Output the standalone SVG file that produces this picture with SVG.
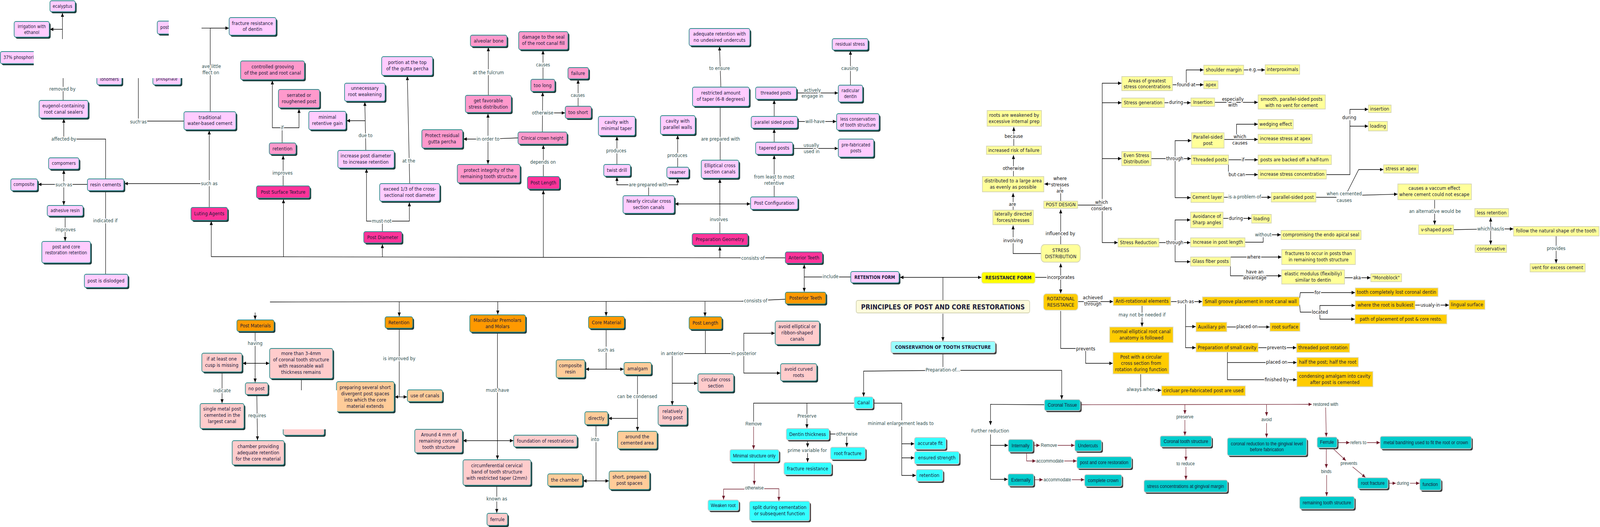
<svg xmlns="http://www.w3.org/2000/svg" width="4741" height="1349" viewBox="0 0 4741 1349" preserveAspectRatio="none" style="width:100vw;height:100vh;display:block">
<defs>
<style>
text{font-family:"DejaVu Sans",Verdana,sans-serif;font-size:13px;fill:#1a1a3a;text-anchor:middle;dominant-baseline:central}
.s12{font-size:12px}
.ar{font-family:"Liberation Sans",Arial,sans-serif}
.bd{font-weight:bold}
.lb{fill:#2f4f4f;stroke:#fff;stroke-width:5px;stroke-linejoin:round;paint-order:stroke}
.lk{fill:#111}
.st{text-anchor:start}
.sh{fill:#1d3b3b}
.shc{fill:#3a3a3a}
.pl{fill:#ffccff;stroke:#2e8c8c;stroke-width:2}
.pm{fill:#ff99cc;stroke:#2e8c8c;stroke-width:2}
.mg{fill:#ff3399;stroke:#2e8c8c;stroke-width:2}
.or{fill:#ff9900;stroke:#2e8c8c;stroke-width:2}
.sa{fill:#ffcccc;stroke:#2e8c8c;stroke-width:2}
.pe{fill:#ffcc99;stroke:#2e8c8c;stroke-width:2}
.cy{fill:#33ffff;stroke:#c8c8c8;stroke-width:2}
.lc{fill:#99ffff;stroke:#c8c8c8;stroke-width:2}
.dc{fill:#00cccc;stroke:#c8c8c8;stroke-width:2}
.yl{fill:#ffff99;stroke:#d6d6b4;stroke-width:2}
.gd{fill:#ffcc00;stroke:#dcdcc4;stroke-width:2}
.ye{fill:#ffff00;stroke:#e4e4a8;stroke-width:2}
.tt{fill:#fdfbdc;stroke:#d2d2b4;stroke-width:2}
.wh{fill:#fff}
#connectors path{fill:none;stroke:#000;stroke-width:1.3}
#connectors path.r{stroke:#701c2c}
.m{marker-end:url(#a)}
.rm{marker-end:url(#r)}
</style>
<marker id="a" viewBox="0 0 10 10" refX="10" refY="5" markerWidth="10" markerHeight="10" markerUnits="userSpaceOnUse" orient="auto"><path d="M0,0.5L10,5L0,9.5z" fill="#000"/></marker>
<marker id="r" viewBox="0 0 10 10" refX="10" refY="5" markerWidth="10" markerHeight="10" markerUnits="userSpaceOnUse" orient="auto"><path d="M0,0.5L10,5L0,9.5z" fill="#701c2c"/></marker>
</defs>
<rect width="4741" height="1349" fill="#fff"/>

<g id="connectors">
<path class="m" d="M185,100V33"/>
<path class="m" d="M185,75H148"/>
<path d="M187,257V200"/>
<path class="m" d="M313,458V356H189V304"/>
<path class="m" d="M259,472H113"/>
<path class="m" d="M189,473V435"/>
<path class="m" d="M189,473V525"/>
<path class="m" d="M193,555V617"/>
<path d="M313,490V702"/>
<path class="m" d="M620,531V334"/>
<path class="m" d="M620,470H369"/>
<path d="M545,310H410V200"/>
<path class="m" d="M623,286V72H678"/>
<path d="M597,72H623"/>
<path d="M2327,660L626,657"/>
<path class="m" d="M626,657V566"/>
<path class="m" d="M840,658V510"/>
<path class="m" d="M1133,658V625"/>
<path class="m" d="M1610,659V487"/>
<path class="m" d="M2133,659V631"/>
<path class="m" d="M839,476V398"/>
<path class="m" d="M836,366V327H807V206"/>
<path class="m" d="M836,327H886V279"/>
<path class="m" d="M1133,593V566H1086V432"/>
<path class="m" d="M1133,566H1213V518"/>
<path class="m" d="M1214,470L1207,195"/>
<path class="m" d="M1084,385L1081,261"/>
<path class="m" d="M1082,309H1027"/>
<path class="m" d="M1535,353L1446,356H1373"/>
<path class="m" d="M1446,356V291"/>
<path class="m" d="M1446,356V420"/>
<path class="m" d="M1447,244V121"/>
<path class="m" d="M1610,452V371"/>
<path class="m" d="M1607,338L1608,236"/>
<path class="m" d="M1608,289H1674"/>
<path class="m" d="M1609,203V129"/>
<path class="m" d="M1713,272V204"/>
<path class="m" d="M2133,598V458"/>
<path class="m" d="M2133,522H2000"/>
<path class="m" d="M2133,522H2223"/>
<path d="M2134,410V273"/>
<path class="m" d="M2136,223L2132,119"/>
<path class="m" d="M1922,501V473H1828V453"/>
<path class="m" d="M1922,473H2008V457"/>
<path class="m" d="M1828,421V349"/>
<path class="m" d="M2008,428V346"/>
<path class="m" d="M2294,504V397"/>
<path class="m" d="M2294,364V330"/>
<path class="m" d="M2294,298V256"/>
<path class="m" d="M2360,238H2483"/>
<path class="m" d="M2520,218V130"/>
<path class="m" d="M2363,311H2478"/>
<path class="m" d="M2349,380H2483"/>
<path d="M2327,766L2198,771L800,773"/>
<path class="m" d="M756,800V818"/>
<path class="m" d="M1183,772V810"/>
<path class="m" d="M1475,772V805"/>
<path class="m" d="M1796,772V809"/>
<path class="m" d="M2089,772V810"/>
<path class="m" d="M756,849V979"/>
<path class="m" d="M756,930H719"/>
<path class="m" d="M756,930H798"/>
<path class="m" d="M658,954V1032"/>
<path class="m" d="M761,1012L763,1127"/>
<path d="M893,969V1000"/>
<path class="m" d="M1183,842V1016H1170"/>
<path class="m" d="M1183,1016H1206"/>
<path class="m" d="M1474,852V1176"/>
<path class="m" d="M1474,1128H1372"/>
<path class="m" d="M1474,1128H1521"/>
<path class="m" d="M1472,1243V1313"/>
<path class="m" d="M1796,842V945H1735"/>
<path class="m" d="M1796,945H1848"/>
<path class="m" d="M1889,961V1103"/>
<path class="m" d="M1889,1071H1803"/>
<path class="m" d="M1766,1089V1231H1728"/>
<path class="m" d="M1766,1231H1804"/>
<path class="m" d="M2090,845V905H1992V1037"/>
<path class="m" d="M1992,981H2067"/>
<path class="m" d="M2090,905H2204V853H2296"/>
<path class="m" d="M2204,905V955H2312"/>
<path class="m" d="M2794,769V710H2667"/>
<path class="m" d="M2794,710H2908"/>
<path class="m" d="M2521,709H2383V677"/>
<path class="m" d="M2383,709V747"/>
<path class="m" d="M2794,803V873"/>
<path class="m" d="M2794,904V948L2559,950V1015"/>
<path class="m" d="M2794,948H3146V1022"/>
<path d="M2531,1032H2233V1080"/>
<path class="r rm" d="M2233,1092V1150"/>
<path class="m" d="M2391,1032V1096"/>
<path class="m" d="M2458,1111H2509V1144"/>
<path class="m" d="M2393,1128V1145"/>
<path class="m" d="M2393,1160V1183"/>
<path d="M2588,1032H2672V1076"/>
<path class="m" d="M2672,1092V1217H2714"/>
<path class="m" d="M2672,1136H2709"/>
<path class="m" d="M2672,1172H2709"/>
<path class="r rm" d="M2235,1185V1241"/>
<path class="r rm" d="M2210,1252H2144V1279"/>
<path class="r rm" d="M2262,1251H2308V1282"/>
<path class="m" d="M3095,1036L2935,1035V1088"/>
<path class="m" d="M2935,1112V1227H2986"/>
<path class="m" d="M2935,1140H2987"/>
<path class="r rm" d="M3062,1140H3081"/>
<path class="r rm" d="M3134,1140H3184"/>
<path class="r rm" d="M3042,1158V1180H3069"/>
<path class="r rm" d="M3152,1180H3190"/>
<path class="r rm" d="M3064,1228H3090"/>
<path class="r rm" d="M3176,1228H3213"/>
<path class="r rm" d="M3201,1036L3887,1035"/>
<path class="r rm" d="M3511,1036V1060"/>
<path class="r rm" d="M3511,1075V1115"/>
<path class="r rm" d="M3753,1036V1065"/>
<path class="r rm" d="M3753,1083V1120"/>
<path class="r rm" d="M3928,1043L3930,1118"/>
<path class="r rm" d="M3514,1146V1179"/>
<path class="r rm" d="M3514,1195V1228"/>
<path class="r rm" d="M3962,1133H3999"/>
<path class="r rm" d="M4050,1133H4089"/>
<path class="r rm" d="M3930,1149V1198"/>
<path class="r rm" d="M3931,1216V1270"/>
<path class="r rm" d="M3951,1149L3988,1179"/>
<path class="r rm" d="M4008,1195L4046,1222"/>
<path class="r rm" d="M4114,1237H4136"/>
<path class="r rm" d="M4178,1237H4206"/>
<path class="m" d="M3085,649H3002V577"/>
<path class="m" d="M3002,538V494"/>
<path class="m" d="M3003,452V397"/>
<path class="m" d="M3004,374V325"/>
<path class="m" d="M3143,514V471H3095"/>
<path class="m" d="M3143,626V536"/>
<path d="M3067,710H3143"/>
<path class="m" d="M3143,710V674"/>
<path class="m" d="M3143,710V751"/>
<path d="M3193,525H3266"/>
<path class="m" d="M3266,525V213H3323"/>
<path class="m" d="M3266,263H3323"/>
<path class="m" d="M3266,406H3323"/>
<path class="m" d="M3266,525V621H3312"/>
<path class="m" d="M3474,217H3566"/>
<path class="m" d="M3515,217V179H3566"/>
<path class="m" d="M3685,179H3748"/>
<path class="m" d="M3450,263H3528"/>
<path class="m" d="M3599,262H3727"/>
<path class="m" d="M3411,406H3529"/>
<path class="m" d="M3482,406V360H3530"/>
<path class="m" d="M3482,406V506H3528"/>
<path class="m" d="M3627,357H3727"/>
<path class="m" d="M3664,357V318H3727"/>
<path class="m" d="M3640,409H3727"/>
<path class="m" d="M3640,421V447H3727"/>
<path class="m" d="M3930,447H4000V280H4054"/>
<path class="m" d="M4000,323H4054"/>
<path class="m" d="M3626,505H3766"/>
<path d="M3899,505H3960"/>
<path class="m" d="M3993,490L4026,434H4099"/>
<path class="m" d="M4020,500L4141,497"/>
<path class="m" d="M4251,512V575"/>
<path d="M4307,588L4417,586"/>
<path class="m" d="M4417,586V557"/>
<path class="m" d="M4417,586V626"/>
<path class="m" d="M4417,586H4484"/>
<path class="m" d="M4611,605V674"/>
<path class="m" d="M3434,621H3527"/>
<path class="m" d="M3482,621V563H3527"/>
<path class="m" d="M3482,621V670H3527"/>
<path class="m" d="M3624,559H3708"/>
<path class="m" d="M3689,620H3743V601H3795"/>
<path class="m" d="M3646,658H3797"/>
<path class="m" d="M3646,682V706H3797"/>
<path class="m" d="M3984,711H4061"/>
<path class="m" d="M3194,772H3298"/>
<path class="m" d="M3384,783V836"/>
<path class="m" d="M3469,772H3562"/>
<path class="m" d="M3513,772V890H3543"/>
<path class="m" d="M3513,836H3543"/>
<path class="m" d="M3851,763L3853,749H4015"/>
<path d="M3851,780L3853,799H3911"/>
<path class="m" d="M3911,799V782H4015"/>
<path class="m" d="M3911,799V817H4014"/>
<path class="m" d="M4193,781H4293"/>
<path class="m" d="M3635,837H3762"/>
<path class="m" d="M3728,890H3841"/>
<path class="m" d="M3637,902V972H3842"/>
<path class="m" d="M3637,928H3842"/>
<path d="M3143,796V892H3217"/>
<path class="m" d="M3217,892V930H3297"/>
<path d="M3380,958V997"/>
<path class="m" d="M3380,999H3441"/>

<text class="lb" x="185" y="228">removed by</text>
<text class="lb" x="189" y="356">affected by</text>
<text class="lb" x="189" y="473">such as</text>
<text class="lb" x="194" y="588">improves</text>
<text class="lb" x="312" y="565">indicated if</text>
<text class="lb" x="620" y="470">such as</text>
<text class="lb" x="410" y="312">such as</text>
<text class="lb st" x="598" y="170">ave little</text>
<text class="lb st" x="600" y="186">ffect on</text>
<text class="lb" x="2231" y="661">consists of</text>
<text class="lb" x="837" y="443">improves</text>
<text class="lb" x="836" y="327">if</text>
<text class="lb" x="1131" y="566">must not</text>
<text class="lb" x="1211" y="412">at the</text>
<text class="lb" x="1083" y="347">due to</text>
<text class="lb" x="1446" y="356">in order to</text>
<text class="lb" x="1447" y="186">at the fulcrum</text>
<text class="lb" x="1609" y="415">depends on</text>
<text class="lb" x="1608" y="289">otherwise</text>
<text class="lb s12" x="1609" y="166">causes</text>
<text class="lb s12" x="1712" y="244">causes</text>
<text class="lb" x="2130" y="562">involves</text>
<text class="lb" x="2135" y="356">are prepared with</text>
<text class="lb" x="2132" y="175">to ensure</text>
<text class="lb" x="1921" y="473">are prepared with</text>
<text class="lb" x="1826" y="386">produces</text>
<text class="lb" x="2007" y="398">produces</text>
<text class="lb"><tspan x="2294" y="453">from least to most</tspan><tspan x="2294" y="469">retentive</tspan></text>
<text class="lb"><tspan x="2407" y="231">actively</tspan><tspan x="2407" y="246">engage in</tspan></text>
<text class="lb" x="2518" y="175">causing</text>
<text class="lb" x="2415" y="311">will have</text>
<text class="lb"><tspan x="2404" y="372">usually</tspan><tspan x="2405" y="388">used in</tspan></text>
<text class="lb" x="2239" y="770">consists of</text>
<text class="lb" x="756" y="879">having</text>
<text class="lb" x="658" y="1000">indicate</text>
<text class="lb" x="762" y="1064">requires</text>
<text class="lb" x="1183" y="918">is improved by</text>
<text class="lb" x="1474" y="999">must have</text>
<text class="lb" x="1472" y="1277">known as</text>
<text class="lb" x="1796" y="896">such as</text>
<text class="lb" x="1888" y="1015">can be condensed</text>
<text class="lb" x="1763" y="1125">into</text>
<text class="lb" x="1992" y="905">in anterior</text>
<text class="lb" x="2204" y="905">in posterior</text>
<text class="lb" x="2461" y="708">include</text>
<text class="lb" x="2794" y="947">Preparation of...</text>
<text class="lb" x="2391" y="1065">Preserve</text>
<text class="lb" x="2509" y="1111">otherwise</text>
<text class="lb" x="2392" y="1153">prime variable for</text>
<text class="lb" x="2669" y="1084">minimal enlargement leads to</text>
<text class="lb ar" x="2233" y="1085">Remove</text>
<text class="lb ar" x="2235" y="1249">otherwise</text>
<text class="lb" x="2934" y="1103">Further reduction</text>
<text class="lb ar" x="3108" y="1140">Remove</text>
<text class="lb ar" x="3111" y="1180">accommodate</text>
<text class="lb ar" x="3133" y="1228">accommodate</text>
<text class="lb ar" x="3928" y="1035">restored with</text>
<text class="lb ar" x="3511" y="1067">preserve</text>
<text class="lb ar" x="3753" y="1074">avoid</text>
<text class="lb ar" x="3513" y="1187">to reduce</text>
<text class="lb ar" x="4025" y="1133">refers to</text>
<text class="lb ar" x="3930" y="1207">binds</text>
<text class="lb ar" x="3997" y="1186">prevents</text>
<text class="lb ar" x="4157" y="1237">during</text>
<text class="lb lk" x="3002" y="616">involving</text>
<text class="lb lk" x="3000" y="523">are</text>
<text class="lb lk" x="3003" y="431">otherwise</text>
<text class="lb lk" x="3004" y="349">because</text>
<text class="lb lk"><tspan x="3141" y="457">where</tspan><tspan x="3141" y="473">stresses</tspan><tspan x="3141" y="489">are</tspan></text>
<text class="lb lk" x="3142" y="598">influenced by</text>
<text class="lb lk" x="3143" y="710">incorporates</text>
<text class="lb lk"><tspan x="3264" y="518">which</tspan><tspan x="3264" y="534">considers</tspan></text>
<text class="lb lk" x="3515" y="217">found at</text>
<text class="lb lk" x="3713" y="178">e.g.</text>
<text class="lb lk" x="3485" y="262">during</text>
<text class="lb lk"><tspan x="3653" y="254">especially</tspan><tspan x="3653" y="269">with</tspan></text>
<text class="lb lk" x="3481" y="406">through</text>
<text class="lb lk"><tspan x="3674" y="350">which</tspan><tspan x="3674" y="366">causes</tspan></text>
<text class="lb lk" x="3683" y="409">if</text>
<text class="lb lk" x="3665" y="447">but can</text>
<text class="lb lk" x="3998" y="301">during</text>
<text class="lb" x="3688" y="504">is a problem of</text>
<text class="lb"><tspan x="3983" y="496">when cemented</tspan><tspan x="3983" y="513">causes</tspan></text>
<text class="lb" x="4252" y="541">an alternative would be</text>
<text class="lb" x="4417" y="586">which has/is</text>
<text class="lb" x="4611" y="636">provides</text>
<text class="lb lk" x="3481" y="621">through</text>
<text class="lb lk" x="3662" y="559">during</text>
<text class="lb" x="3743" y="601">without</text>
<text class="lb lk" x="3715" y="658">where</text>
<text class="lb lk"><tspan x="3718" y="696">have an</tspan><tspan x="3718" y="711">advantage</tspan></text>
<text class="lb lk" x="4021" y="711">aka</text>
<text class="lb lk"><tspan x="3238" y="762">achieved</tspan><tspan x="3238" y="778">through</tspan></text>
<text class="lb" x="3384" y="806">may not be needed if</text>
<text class="lb lk" x="3513" y="772">such as</text>
<text class="lb lk" x="3904" y="749">for</text>
<text class="lb lk" x="3911" y="799">located</text>
<text class="lb lk" x="4238" y="781">usualy in</text>
<text class="lb lk" x="3695" y="836">placed on</text>
<text class="lb lk" x="3783" y="890">prevents</text>
<text class="lb lk" x="3783" y="927">placed on</text>
<text class="lb lk" x="3783" y="972">finished by</text>
<text class="lb lk" x="3217" y="893">prevents</text>
<text class="lb" x="3380" y="997">always when</text>
</g>

<g id="nodes">
<g id="n-ecalyptus"><rect class="sh" x="152" y="6" width="75" height="28" rx="5"/><rect class="pl" x="148" y="2" width="75" height="28" rx="5"/><text class="s12" x="185" y="16">ecalyptus</text></g>
<g id="n-irrigation"><rect class="sh" x="46" y="59" width="104" height="40" rx="5"/><rect class="pl" x="42" y="55" width="104" height="40" rx="5"/><text class="s12"><tspan x="94" y="68">irrigation with</tspan><tspan x="94" y="83">ethanol</tspan></text></g>
<g id="n-phosphoric"><rect class="sh" x="5" y="136" width="119" height="31" rx="5"/><rect class="pl" x="1" y="132" width="119" height="31" rx="5"/><text class="s12 st" x="10" y="147">37% phosphori</text></g>
<g id="n-post"><rect class="sh" x="470" y="58" width="60" height="33" rx="5"/><rect class="pl" x="466" y="54" width="60" height="33" rx="5"/><text class="s12 st" x="475" y="70">post</text></g>
<g id="n-ionomers"><rect class="sh" x="291" y="186" width="74" height="35" rx="5"/><rect class="pl" x="287" y="182" width="74" height="35" rx="5"/><text class="s12" x="324" y="203">ionomers</text></g>
<g id="n-phosphate"><rect class="sh" x="457" y="186" width="83" height="35" rx="5"/><rect class="pl" x="453" y="182" width="83" height="35" rx="5"/><text class="s12" x="494" y="202">phosphate</text></g>
<g id="n-fracture-dentin"><rect class="sh" x="683" y="49" width="139" height="45" rx="5"/><rect class="pl" x="679" y="45" width="139" height="45" rx="5"/><text><tspan x="748" y="60">fracture resistance</tspan><tspan x="748" y="75">of dentin</tspan></text></g>
<g id="n-eugenol"><rect class="sh" x="120" y="261" width="145" height="45" rx="5"/><rect class="pl" x="116" y="257" width="145" height="45" rx="5"/><text><tspan x="188" y="271">eugenol-containing</tspan><tspan x="188" y="287">root canal sealers</tspan></text></g>
<g id="n-traditional"><rect class="sh" x="549" y="290" width="154" height="46" rx="5"/><rect class="pl" x="545" y="286" width="154" height="46" rx="5"/><text><tspan x="622" y="301">traditional</tspan><tspan x="622" y="316">water-based cement</tspan></text></g>
<g id="n-compomers"><rect class="sh" x="148" y="408" width="90" height="29" rx="5"/><rect class="pl" x="144" y="404" width="90" height="29" rx="5"/><text class="s12" x="189" y="418">compomers</text></g>
<g id="n-composite"><rect class="sh" x="36" y="462" width="79" height="30" rx="5"/><rect class="pl" x="32" y="458" width="79" height="30" rx="5"/><text class="s12" x="71" y="472">composite</text></g>
<g id="n-resin-cements"><rect class="sh" x="263" y="462" width="108" height="30" rx="5"/><rect class="pl" x="259" y="458" width="108" height="30" rx="5"/><text x="313" y="473">resin cements</text></g>
<g id="n-adhesive"><rect class="sh" x="144" y="530" width="106" height="27" rx="5"/><rect class="pl" x="140" y="526" width="106" height="27" rx="5"/><text class="s12" x="193" y="539">adhesive resin</text></g>
<g id="n-pc-retention"><rect class="sh" x="128" y="622" width="144" height="55" rx="5"/><rect class="pl" x="124" y="618" width="144" height="55" rx="5"/><text class="s12"><tspan x="196" y="632">post and core</tspan><tspan x="196" y="647">restoration retention</tspan></text></g>
<g id="n-dislodged"><rect class="sh" x="254" y="706" width="129" height="34" rx="5"/><rect class="pl" x="250" y="702" width="129" height="34" rx="5"/><text x="314" y="719">post is dislodged</text></g>
<g id="n-unnecessary"><rect class="sh" x="1025" y="217" width="120" height="46" rx="5"/><rect class="pl" x="1021" y="213" width="120" height="46" rx="5"/><text><tspan x="1081" y="226">unnecessary</tspan><tspan x="1081" y="242">root weakening</tspan></text></g>
<g id="n-minimal-gain"><rect class="sh" x="919" y="289" width="110" height="47" rx="5"/><rect class="pl" x="915" y="285" width="110" height="47" rx="5"/><text><tspan x="970" y="300">minimal</tspan><tspan x="970" y="316">retentive gain</tspan></text></g>
<g id="n-increase-diam"><rect class="sh" x="1005" y="389" width="167" height="45" rx="5"/><rect class="pl" x="1001" y="385" width="167" height="45" rx="5"/><text><tspan x="1084" y="399">increase post diameter</tspan><tspan x="1084" y="415">to increase retention</tspan></text></g>
<g id="n-portion"><rect class="sh" x="1135" y="149" width="151" height="48" rx="5"/><rect class="pl" x="1131" y="145" width="151" height="48" rx="5"/><text><tspan x="1207" y="160">portion at the top</tspan><tspan x="1207" y="176">of the gutta percha</tspan></text></g>
<g id="n-exceed"><rect class="sh" x="1129" y="474" width="178" height="45" rx="5"/><rect class="pl" x="1125" y="470" width="178" height="45" rx="5"/><text><tspan x="1214" y="484">exceed 1/3 of the cross-</tspan><tspan x="1214" y="500">sectional root diameter</tspan></text></g>
<g id="n-cav-min"><rect class="sh" x="1777" y="302" width="109" height="49" rx="5"/><rect class="pl" x="1773" y="298" width="109" height="49" rx="5"/><text><tspan x="1827" y="313">cavity with</tspan><tspan x="1827" y="329">minimal taper</tspan></text></g>
<g id="n-twist"><rect class="sh" x="1793" y="425" width="79" height="30" rx="5"/><rect class="pl" x="1789" y="421" width="79" height="30" rx="5"/><text x="1828" y="436">twist drill</text></g>
<g id="n-cav-par"><rect class="sh" x="1961" y="300" width="103" height="48" rx="5"/><rect class="pl" x="1957" y="296" width="103" height="48" rx="5"/><text><tspan x="2008" y="310">cavity with</tspan><tspan x="2008" y="326">parallel walls</tspan></text></g>
<g id="n-reamer"><rect class="sh" x="1980" y="432" width="65" height="27" rx="5"/><rect class="pl" x="1976" y="428" width="65" height="27" rx="5"/><text x="2008" y="441">reamer</text></g>
<g id="n-nearly"><rect class="sh" x="1850" y="505" width="152" height="45" rx="5"/><rect class="pl" x="1846" y="501" width="152" height="45" rx="5"/><text><tspan x="1922" y="515">Nearly circular cross</tspan><tspan x="1922" y="531">section canals</tspan></text></g>
<g id="n-adequate"><rect class="sh" x="2046" y="77" width="180" height="44" rx="5"/><rect class="pl" x="2042" y="73" width="180" height="44" rx="5"/><text><tspan x="2132" y="87">adequate retention with</tspan><tspan x="2132" y="103">no undesired undercuts</tspan></text></g>
<g id="n-restricted"><rect class="sh" x="2056" y="227" width="168" height="49" rx="5"/><rect class="pl" x="2052" y="223" width="168" height="49" rx="5"/><text><tspan x="2136" y="238">restricted amount</tspan><tspan x="2136" y="254">of taper (6-8 degrees)</tspan></text></g>
<g id="n-elliptical"><rect class="sh" x="2082" y="414" width="111" height="46" rx="5"/><rect class="pl" x="2078" y="410" width="111" height="46" rx="5"/><text><tspan x="2133" y="424">Elliptical cross</tspan><tspan x="2133" y="440">section canals</tspan></text></g>
<g id="n-post-config"><rect class="sh" x="2228" y="508" width="140" height="32" rx="5"/><rect class="pl" x="2224" y="504" width="140" height="32" rx="5"/><text x="2294" y="520">Post Configuration</text></g>
<g id="n-threaded"><rect class="sh" x="2243" y="227" width="121" height="31" rx="5"/><rect class="pl" x="2239" y="223" width="121" height="31" rx="5"/><text class="s12" x="2299" y="238">threaded posts</text></g>
<g id="n-parallel"><rect class="sh" x="2230" y="302" width="137" height="30" rx="5"/><rect class="pl" x="2226" y="298" width="137" height="30" rx="5"/><text class="s12" x="2294" y="313">parallel sided posts</text></g>
<g id="n-tapered"><rect class="sh" x="2243" y="368" width="110" height="31" rx="5"/><rect class="pl" x="2239" y="364" width="110" height="31" rx="5"/><text x="2294" y="379">tapered posts</text></g>
<g id="n-residual"><rect class="sh" x="2470" y="103" width="106" height="29" rx="5"/><rect class="pl" x="2466" y="99" width="106" height="29" rx="5"/><text class="s12" x="2519" y="113">residual stress</text></g>
<g id="n-radicular"><rect class="sh" x="2488" y="222" width="72" height="43" rx="5"/><rect class="pl" x="2484" y="218" width="72" height="43" rx="5"/><text class="s12"><tspan x="2520" y="232">radicular</tspan><tspan x="2520" y="247">dentin</tspan></text></g>
<g id="n-less-cons"><rect class="sh" x="2483" y="295" width="126" height="42" rx="5"/><rect class="pl" x="2479" y="291" width="126" height="42" rx="5"/><text class="s12"><tspan x="2542" y="305">less conservation</tspan><tspan x="2542" y="320">of tooth structure</tspan></text></g>
<g id="n-prefab"><rect class="sh" x="2488" y="360" width="105" height="46" rx="5"/><rect class="pl" x="2484" y="356" width="105" height="46" rx="5"/><text class="s12"><tspan x="2536" y="371">pre-fabricated</tspan><tspan x="2536" y="386">posts</tspan></text></g>
<g id="n-retention-form"><rect class="sh" x="2525" y="699" width="143" height="29" rx="5"/><rect class="pl" x="2521" y="695" width="143" height="29" rx="5"/><text class="bd" style="font-size:12px" x="2592" y="710">RETENTION FORM</text></g>

<g id="n-grooving"><rect class="sh" x="717" y="160" width="189" height="48" rx="5"/><rect class="pm" x="713" y="156" width="189" height="48" rx="5"/><text><tspan x="808" y="171">controlled grooving</tspan><tspan x="808" y="187">of the post and root canal</tspan></text></g>
<g id="n-serrated"><rect class="sh" x="829" y="233" width="122" height="47" rx="5"/><rect class="pm" x="825" y="229" width="122" height="47" rx="5"/><text><tspan x="886" y="244">serrated or</tspan><tspan x="886" y="260">roughened post</tspan></text></g>
<g id="n-retention-pink"><rect class="sh" x="802" y="370" width="79" height="29" rx="5"/><rect class="pm" x="798" y="366" width="79" height="29" rx="5"/><text x="837" y="381">retention</text></g>
<g id="n-alveolar"><rect class="sh" x="1398" y="94" width="108" height="29" rx="5"/><rect class="pm" x="1394" y="90" width="108" height="29" rx="5"/><text x="1448" y="105">alveolar bone</text></g>
<g id="n-damage"><rect class="sh" x="1541" y="85" width="146" height="46" rx="5"/><rect class="pm" x="1537" y="81" width="146" height="46" rx="5"/><text><tspan x="1610" y="95">damage to the seal</tspan><tspan x="1610" y="111">of the root canal fill</tspan></text></g>
<g id="n-too-long"><rect class="sh" x="1577" y="207" width="71" height="31" rx="5"/><rect class="pm" x="1573" y="203" width="71" height="31" rx="5"/><text x="1608" y="219">too long</text></g>
<g id="n-failure"><rect class="sh" x="1687" y="177" width="61" height="29" rx="5"/><rect class="pm" x="1683" y="173" width="61" height="29" rx="5"/><text x="1713" y="188">failure</text></g>
<g id="n-too-short"><rect class="sh" x="1679" y="276" width="77" height="31" rx="5"/><rect class="pm" x="1675" y="272" width="77" height="31" rx="5"/><text x="1713" y="288">too short</text></g>
<g id="n-clinical"><rect class="sh" x="1539" y="342" width="145" height="31" rx="5"/><rect class="pm" x="1535" y="338" width="145" height="31" rx="5"/><text class="s12" x="1607" y="354">Clinical crown height</text></g>
<g id="n-get-favorable"><rect class="sh" x="1383" y="248" width="136" height="44" rx="5"/><rect class="pm" x="1379" y="244" width="136" height="44" rx="5"/><text><tspan x="1447" y="258">get favorable</tspan><tspan x="1447" y="274">stress distribution</tspan></text></g>
<g id="n-protect-residual"><rect class="sh" x="1254" y="336" width="121" height="47" rx="5"/><rect class="pm" x="1250" y="332" width="121" height="47" rx="5"/><text><tspan x="1310" y="347">Protect residual</tspan><tspan x="1310" y="363">gutta percha</tspan></text></g>
<g id="n-protect-integrity"><rect class="sh" x="1359" y="425" width="186" height="47" rx="5"/><rect class="pm" x="1355" y="421" width="186" height="47" rx="5"/><text><tspan x="1448" y="436">protect integrity of the</tspan><tspan x="1448" y="452">remaining tooth structure</tspan></text></g>

<g id="n-luting"><rect class="sh" x="570" y="535" width="108" height="33" rx="5"/><rect class="mg" x="566" y="531" width="108" height="33" rx="5"/><text x="620" y="547">Luting Agents</text></g>
<g id="n-surface"><rect class="sh" x="764" y="480" width="158" height="31" rx="5"/><rect class="mg" x="760" y="476" width="158" height="31" rx="5"/><text x="839" y="492">Post Surface Texture</text></g>
<g id="n-diameter"><rect class="sh" x="1082" y="597" width="113" height="29" rx="5"/><rect class="mg" x="1078" y="593" width="113" height="29" rx="5"/><text x="1134" y="608">Post Diameter</text></g>
<g id="n-length-ant"><rect class="sh" x="1567" y="456" width="95" height="32" rx="5"/><rect class="mg" x="1563" y="452" width="95" height="32" rx="5"/><text x="1610" y="468">Post Length</text></g>
<g id="n-prep-geometry"><rect class="sh" x="2055" y="602" width="165" height="30" rx="5"/><rect class="mg" x="2051" y="598" width="165" height="30" rx="5"/><text x="2133" y="613">Preparation Geometry</text></g>
<g id="n-anterior"><rect class="sh" x="2331" y="649" width="110" height="29" rx="5"/><rect class="mg" x="2327" y="645" width="110" height="29" rx="5"/><text x="2382" y="660">Anterior Teeth</text></g>

<g id="n-posterior"><rect class="sh" x="2331" y="752" width="120" height="30" rx="5"/><rect class="or" x="2327" y="748" width="120" height="30" rx="5"/><text x="2387" y="763">Posterior Teeth</text></g>
<g id="n-post-materials"><rect class="sh" x="706" y="823" width="110" height="29" rx="5"/><rect class="or" x="702" y="819" width="110" height="29" rx="5"/><text x="757" y="834">Post Materials</text></g>
<g id="n-retention-orange"><rect class="sh" x="1145" y="815" width="82" height="29" rx="5"/><rect class="or" x="1141" y="811" width="82" height="29" rx="5"/><text x="1182" y="826">Retention</text></g>
<g id="n-mandibular"><rect class="sh" x="1396" y="810" width="165" height="44" rx="5"/><rect class="or" x="1392" y="806" width="165" height="44" rx="5"/><text><tspan x="1474" y="820">Mandibular Premolars</tspan><tspan x="1474" y="836">and Molars</tspan></text></g>
<g id="n-core-material"><rect class="sh" x="1748" y="814" width="106" height="31" rx="5"/><rect class="or" x="1744" y="810" width="106" height="31" rx="5"/><text x="1797" y="826">Core Material</text></g>
<g id="n-length-post"><rect class="sh" x="2046" y="815" width="97" height="32" rx="5"/><rect class="or" x="2042" y="811" width="97" height="32" rx="5"/><text x="2090" y="827">Post Length</text></g>

<g id="n-cusp"><rect class="sh" x="602" y="908" width="119" height="48" rx="5"/><rect class="sa" x="598" y="904" width="119" height="48" rx="5"/><text><tspan x="657" y="919">if at least one</tspan><tspan x="657" y="935">cusp is missing</tspan></text></g>
<g id="n-more-than"><rect class="sh" x="803" y="896" width="187" height="77" rx="5"/><rect class="sa" x="799" y="892" width="187" height="77" rx="5"/><text><tspan x="892" y="905">more than 3-4mm</tspan><tspan x="892" y="921">of coronal tooth structure</tspan><tspan x="892" y="937">with reasonable wall</tspan><tspan x="892" y="953">thickness remains</tspan></text></g>
<g id="n-no-post"><rect class="sh" x="731" y="984" width="67" height="30" rx="5"/><rect class="sa" x="727" y="980" width="67" height="30" rx="5"/><text x="760" y="995">no post</text></g>
<g id="n-single-metal"><rect class="sh" x="597" y="1037" width="130" height="64" rx="5"/><rect class="sa" x="593" y="1033" width="130" height="64" rx="5"/><text><tspan x="658" y="1047">single metal post</tspan><tspan x="658" y="1063">cemented in the</tspan><tspan x="658" y="1079">largest canal</tspan></text></g>
<g id="n-chamber-providing"><rect class="sh" x="692" y="1132" width="154" height="62" rx="5"/><rect class="sa" x="688" y="1128" width="154" height="62" rx="5"/><text><tspan x="765" y="1143">chamber providing</tspan><tspan x="765" y="1159">adequate retention</tspan><tspan x="765" y="1175">for the core material</tspan></text></g>
<g id="n-hidden"><rect class="sh" x="843" y="1066" width="122" height="52" rx="5"/><rect class="sa" x="839" y="1062" width="122" height="52" rx="5"/></g>
<g id="n-around-4mm"><rect class="sh" x="1233" y="1103" width="141" height="60" rx="5"/><rect class="sa" x="1229" y="1099" width="141" height="60" rx="5"/><text><tspan x="1300" y="1113">Around 4 mm of</tspan><tspan x="1300" y="1129">remaining coronal</tspan><tspan x="1300" y="1145">tooth structure</tspan></text></g>
<g id="n-foundation"><rect class="sh" x="1526" y="1118" width="188" height="30" rx="5"/><rect class="sa" x="1522" y="1114" width="188" height="30" rx="5"/><text x="1616" y="1129">foundation of resotrations</text></g>
<g id="n-circumferential"><rect class="sh" x="1376" y="1181" width="201" height="65" rx="5"/><rect class="sa" x="1372" y="1177" width="201" height="65" rx="5"/><text><tspan x="1472" y="1192">circumferential cervical</tspan><tspan x="1472" y="1208">band of tooth structure</tspan><tspan x="1472" y="1224">with restricted taper (2mm)</tspan></text></g>
<g id="n-ferrule"><rect class="sh" x="1447" y="1318" width="61" height="31" rx="5"/><rect class="sa" x="1443" y="1314" width="61" height="31" rx="5"/><text x="1474" y="1330">ferrule</text></g>
<g id="n-avoid-elliptical"><rect class="sh" x="2301" y="826" width="131" height="60" rx="5"/><rect class="sa" x="2297" y="822" width="131" height="60" rx="5"/><text><tspan x="2362" y="836">avoid elliptical or</tspan><tspan x="2362" y="852">ribbon-shaped</tspan><tspan x="2362" y="868">canals</tspan></text></g>
<g id="n-avoid-curved"><rect class="sh" x="2317" y="935" width="107" height="44" rx="5"/><rect class="sa" x="2313" y="931" width="107" height="44" rx="5"/><text><tspan x="2366" y="945">avoid curved</tspan><tspan x="2366" y="961">roots</tspan></text></g>
<g id="n-circular-cross"><rect class="sh" x="2072" y="961" width="106" height="46" rx="5"/><rect class="sa" x="2068" y="957" width="106" height="46" rx="5"/><text><tspan x="2121" y="972">circular cross</tspan><tspan x="2121" y="988">section</tspan></text></g>
<g id="n-relatively-long"><rect class="sh" x="1954" y="1042" width="86" height="50" rx="5"/><rect class="sa" x="1950" y="1038" width="86" height="50" rx="5"/><text><tspan x="1993" y="1053">relatively</tspan><tspan x="1993" y="1069">long post</tspan></text></g>

<g id="n-preparing"><rect class="sh" x="1001" y="981" width="171" height="77" rx="5"/><rect class="pe" x="997" y="977" width="171" height="77" rx="5"/><text><tspan x="1082" y="992">preparing several short</tspan><tspan x="1082" y="1008">divergent post spaces</tspan><tspan x="1082" y="1024">into which the core</tspan><tspan x="1082" y="1040">material extends</tspan></text></g>
<g id="n-use-canals"><rect class="sh" x="1211" y="1002" width="104" height="30" rx="5"/><rect class="pe" x="1207" y="998" width="104" height="30" rx="5"/><text x="1259" y="1013">use of canals</text></g>
<g id="n-composite-resin"><rect class="sh" x="1652" y="925" width="85" height="46" rx="5"/><rect class="pe" x="1648" y="921" width="85" height="46" rx="5"/><text><tspan x="1690" y="936">composite</tspan><tspan x="1690" y="952">resin</tspan></text></g>
<g id="n-amalgam"><rect class="sh" x="1853" y="932" width="81" height="31" rx="5"/><rect class="pe" x="1849" y="928" width="81" height="31" rx="5"/><text x="1889" y="944">amalgam</text></g>
<g id="n-directly"><rect class="sh" x="1737" y="1058" width="68" height="33" rx="5"/><rect class="pe" x="1733" y="1054" width="68" height="33" rx="5"/><text x="1767" y="1071">directly</text></g>
<g id="n-around-cemented"><rect class="sh" x="1834" y="1108" width="117" height="45" rx="5"/><rect class="pe" x="1830" y="1104" width="117" height="45" rx="5"/><text><tspan x="1888" y="1118">around the</tspan><tspan x="1888" y="1134">cemented area</tspan></text></g>
<g id="n-the-chamber"><rect class="sh" x="1627" y="1217" width="103" height="31" rx="5"/><rect class="pe" x="1623" y="1213" width="103" height="31" rx="5"/><text x="1674" y="1229">the chamber</text></g>
<g id="n-short-prepared"><rect class="sh" x="1809" y="1210" width="120" height="47" rx="5"/><rect class="pe" x="1805" y="1206" width="120" height="47" rx="5"/><text><tspan x="1865" y="1221">short, prepared</tspan><tspan x="1865" y="1237">post spaces</tspan></text></g>

<g id="n-title"><rect class="tt" x="2537" y="769" width="514" height="32" rx="5"/><text class="bd" style="font-size:18px" x="2794" y="786">PRINCIPLES OF POST AND CORE RESTORATIONS</text></g>
<g id="n-resistance-form"><rect class="ye" x="2909" y="697" width="158" height="28" rx="6"/><text class="bd" x="2988" y="711">RESISTANCE FORM</text></g>
<g id="n-conservation"><rect class="shc" x="2644" y="878" width="309" height="29" rx="5"/><rect class="lc" x="2640" y="874" width="309" height="29" rx="5"/><text class="bd" x="2794" y="889">CONSERVATION OF TOOTH STRUCTURE</text></g>
<g id="n-canal"><rect class="shc" x="2535" y="1020" width="56" height="30" rx="5"/><rect class="cy" x="2531" y="1016" width="56" height="30" rx="5"/><text x="2559" y="1031">Canal</text></g>
<g id="n-dentin"><rect class="shc" x="2334" y="1101" width="127" height="29" rx="5"/><rect class="cy" x="2330" y="1097" width="127" height="29" rx="5"/><text x="2393" y="1112">Dentin thickness</text></g>
<g id="n-root-fracture-1"><rect class="shc" x="2465" y="1149" width="103" height="31" rx="5"/><rect class="cy" x="2461" y="1145" width="103" height="31" rx="5"/><text x="2512" y="1161">root fracture</text></g>
<g id="n-fracture-res"><rect class="shc" x="2327" y="1188" width="141" height="31" rx="5"/><rect class="cy" x="2323" y="1184" width="141" height="31" rx="5"/><text x="2393" y="1200">fracture resistance</text></g>
<g id="n-minimal-structure"><rect class="shc" x="2167" y="1155" width="145" height="31" rx="5"/><rect class="cy" x="2163" y="1151" width="145" height="31" rx="5"/><text class="ar" x="2235" y="1167">Minimal structure only</text></g>
<g id="n-weaken"><rect class="shc" x="2102" y="1284" width="91" height="27" rx="5"/><rect class="cy" x="2098" y="1280" width="91" height="27" rx="5"/><text class="ar" x="2143" y="1294">Weaken root</text></g>
<g id="n-split"><rect class="shc" x="2225" y="1287" width="178" height="50" rx="5"/><rect class="cy" x="2221" y="1283" width="178" height="50" rx="5"/><text><tspan x="2310" y="1299">split during cementation</tspan><tspan x="2310" y="1315">or subsequent function</tspan></text></g>
<g id="n-accurate"><rect class="shc" x="2714" y="1124" width="93" height="30" rx="5"/><rect class="cy" x="2710" y="1120" width="93" height="30" rx="5"/><text x="2756" y="1135">accurate fit</text></g>
<g id="n-ensured"><rect class="shc" x="2714" y="1160" width="132" height="32" rx="5"/><rect class="cy" x="2710" y="1156" width="132" height="32" rx="5"/><text x="2776" y="1172">ensured strength</text></g>
<g id="n-retention-cyan"><rect class="shc" x="2719" y="1206" width="79" height="30" rx="5"/><rect class="cy" x="2715" y="1202" width="79" height="30" rx="5"/><text x="2754" y="1217">retention</text></g>

<g id="n-coronal-tissue"><rect class="shc" x="3099" y="1027" width="106" height="28" rx="5"/><rect class="dc" x="3095" y="1023" width="106" height="28" rx="5"/><text class="ar" x="3148" y="1037">Coronal Tissue</text></g>
<g id="n-internally"><rect class="shc" x="2992" y="1129" width="73" height="32" rx="5"/><rect class="dc" x="2988" y="1125" width="73" height="32" rx="5"/><text class="ar" x="3024" y="1141">Internally</text></g>
<g id="n-externally"><rect class="shc" x="2991" y="1217" width="76" height="31" rx="5"/><rect class="dc" x="2987" y="1213" width="76" height="31" rx="5"/><text class="ar" x="3025" y="1229">Externally</text></g>
<g id="n-undercuts"><rect class="shc" x="3189" y="1130" width="79" height="29" rx="5"/><rect class="dc" x="3185" y="1126" width="79" height="29" rx="5"/><text class="ar" x="3224" y="1141">Undercuts</text></g>
<g id="n-pc-restoration"><rect class="shc" x="3195" y="1173" width="162" height="30" rx="5"/><rect class="dc" x="3191" y="1169" width="162" height="30" rx="5"/><text class="ar" x="3272" y="1184">post and core restoration</text></g>
<g id="n-complete-crown"><rect class="shc" x="3218" y="1219" width="110" height="30" rx="5"/><rect class="dc" x="3214" y="1215" width="110" height="30" rx="5"/><text class="ar" x="3269" y="1230">complete crown</text></g>
<g id="n-coronal-tooth"><rect class="shc" x="3442" y="1120" width="152" height="28" rx="5"/><rect class="dc" x="3438" y="1116" width="152" height="28" rx="5"/><text class="ar" x="3514" y="1130">Coronal tooth structure</text></g>
<g id="n-stress-gingival"><rect class="shc" x="3394" y="1233" width="247" height="31" rx="5"/><rect class="dc" x="3390" y="1229" width="247" height="31" rx="5"/><text class="ar" x="3513" y="1245">stress concentrations at gingival margin</text></g>
<g id="n-coronal-reduction"><rect class="shc" x="3641" y="1125" width="235" height="45" rx="5"/><rect class="dc" x="3637" y="1121" width="235" height="45" rx="5"/><text class="ar"><tspan x="3754" y="1136">coronal reduction to the gingival level</tspan><tspan x="3754" y="1151">before fabrication</tspan></text></g>
<g id="n-ferrule-cyan"><rect class="shc" x="3907" y="1123" width="59" height="27" rx="5"/><rect class="dc" x="3903" y="1119" width="59" height="27" rx="5"/><text class="ar" x="3932" y="1132">Ferrule</text></g>
<g id="n-metal-band"><rect class="shc" x="4094" y="1121" width="270" height="32" rx="5"/><rect class="dc" x="4090" y="1117" width="270" height="32" rx="5"/><text class="ar" x="4225" y="1133">metal band/ring used to fit the root or crown</text></g>
<g id="n-root-fracture-2"><rect class="shc" x="4027" y="1227" width="90" height="28" rx="5"/><rect class="dc" x="4023" y="1223" width="90" height="28" rx="5"/><text class="ar" x="4068" y="1237">root fracture</text></g>
<g id="n-function"><rect class="shc" x="4211" y="1229" width="63" height="30" rx="5"/><rect class="dc" x="4207" y="1225" width="63" height="30" rx="5"/><text class="ar" x="4238" y="1240">function</text></g>
<g id="n-remaining"><rect class="shc" x="3855" y="1275" width="162" height="32" rx="5"/><rect class="dc" x="3851" y="1271" width="162" height="32" rx="5"/><text class="ar" x="3932" y="1287">remaining tooth structure</text></g>

<g id="n-roots-weakened"><rect class="yl" x="2925" y="283" width="161" height="40"/><text><tspan x="3005" y="295">roots are weakened by</tspan><tspan x="3005" y="311">excessive internal prep</tspan></text></g>
<g id="n-increased-risk"><rect class="yl" x="2923" y="374" width="163" height="21"/><text x="3004" y="385">increased risk of failure</text></g>
<g id="n-distributed"><rect class="yl" x="2911" y="452" width="182" height="39"/><text><tspan x="3002" y="463">distributed to a large area</tspan><tspan x="3002" y="479">as evenly as possible</tspan></text></g>
<g id="n-laterally"><rect class="yl" x="2942" y="538" width="120" height="37"/><text><tspan x="3002" y="548">laterally directed</tspan><tspan x="3002" y="564">forces/stresses</tspan></text></g>
<g id="n-post-design"><rect class="yl" x="3093" y="515" width="100" height="18"/><text x="3143" y="524">POST DESIGN</text></g>
<g id="n-stress-distribution"><rect class="yl" x="3085" y="626" width="116" height="45" rx="10"/><text><tspan x="3143" y="641">STRESS</tspan><tspan x="3143" y="657">DISTRIBUTION</tspan></text></g>
<g id="n-areas"><rect class="yl" x="3324" y="196" width="150" height="36"/><text><tspan x="3399" y="207">Areas of greatest</tspan><tspan x="3399" y="222">stress concentrations</tspan></text></g>
<g id="n-shoulder"><rect class="yl" x="3567" y="167" width="118" height="24"/><text x="3626" y="179">shoulder margin</text></g>
<g id="n-interproximals"><rect class="yl" x="3749" y="166" width="102" height="24"/><text x="3800" y="178">interproximals</text></g>
<g id="n-apex"><rect class="yl" x="3567" y="207" width="42" height="20"/><text x="3588" y="217">apex</text></g>
<g id="n-stress-generation"><rect class="yl" x="3324" y="251" width="126" height="24"/><text x="3387" y="263">Stress generation</text></g>
<g id="n-insertion-1"><rect class="yl" x="3529" y="251" width="70" height="21"/><text x="3564" y="262">Insertion</text></g>
<g id="n-smooth"><rect class="yl" x="3728" y="243" width="199" height="36"/><text><tspan x="3827" y="254">smooth, parallel-sided posts</tspan><tspan x="3827" y="270">with no vent for cement</tspan></text></g>
<g id="n-even"><rect class="yl" x="3324" y="388" width="87" height="36"/><text><tspan x="3367" y="398">Even Stress</tspan><tspan x="3367" y="414">Distribution</tspan></text></g>
<g id="n-parallel-sided"><rect class="yl" x="3531" y="340" width="96" height="39"/><text><tspan x="3579" y="351">Parallel-sided</tspan><tspan x="3579" y="367">post</tspan></text></g>
<g id="n-wedging"><rect class="yl" x="3728" y="306" width="104" height="24"/><text x="3780" y="318">wedging effect</text></g>
<g id="n-inc-apex"><rect class="yl" x="3728" y="344" width="160" height="23"/><text x="3808" y="355">increase stress at apex</text></g>
<g id="n-threaded-y"><rect class="yl" x="3530" y="397" width="110" height="24"/><text x="3585" y="409">Threaded posts</text></g>
<g id="n-backed"><rect class="yl" x="3728" y="397" width="217" height="24"/><text x="3836" y="409">posts are backed off a half-turn</text></g>
<g id="n-inc-conc"><rect class="yl" x="3728" y="435" width="202" height="23"/><text x="3829" y="446">increase stress concentration</text></g>
<g id="n-insertion-2"><rect class="yl" x="4055" y="269" width="67" height="19"/><text x="4088" y="279">insertion</text></g>
<g id="n-loading-1"><rect class="yl" x="4055" y="311" width="56" height="24"/><text x="4083" y="323">loading</text></g>
<g id="n-cement-layer"><rect class="yl" x="3529" y="493" width="97" height="25"/><text x="3577" y="505">Cement layer</text></g>
<g id="n-par-post"><rect class="yl" x="3767" y="493" width="132" height="24"/><text x="3833" y="505">parallel-sided post</text></g>
<g id="n-stress-apex"><rect class="yl" x="4100" y="422" width="103" height="21"/><text x="4151" y="432">stress at apex</text></g>
<g id="n-vaccum"><rect class="yl" x="4142" y="471" width="218" height="40"/><text><tspan x="4250" y="482">causes a vaccum effect</tspan><tspan x="4250" y="498">where cement could not escape</tspan></text></g>
<g id="n-v-shaped"><rect class="yl" x="4204" y="576" width="103" height="24"/><text x="4256" y="588">v-shaped post</text></g>
<g id="n-less-retention"><rect class="yl" x="4370" y="534" width="100" height="21"/><text x="4420" y="545">less retention</text></g>
<g id="n-conservative"><rect class="yl" x="4371" y="627" width="93" height="19"/><text x="4418" y="637">conservative</text></g>
<g id="n-follow"><rect class="yl" x="4485" y="580" width="253" height="24"/><text x="4611" y="591">follow the natural shape of the tooth</text></g>
<g id="n-vent"><rect class="yl" x="4534" y="675" width="163" height="21"/><text x="4615" y="685">vent for excess cement</text></g>
<g id="n-stress-reduction"><rect class="yl" x="3313" y="610" width="121" height="22"/><text x="3373" y="621">Stress Reduction</text></g>
<g id="n-avoidance"><rect class="yl" x="3528" y="543" width="96" height="40"/><text><tspan x="3576" y="554">Avoidance of</tspan><tspan x="3576" y="570">Sharp angles</tspan></text></g>
<g id="n-loading-2"><rect class="yl" x="3709" y="549" width="58" height="22"/><text x="3738" y="560">loading</text></g>
<g id="n-inc-length"><rect class="yl" x="3528" y="609" width="161" height="23"/><text x="3609" y="620">Increase in post length</text></g>
<g id="n-compromising"><rect class="yl" x="3796" y="590" width="237" height="23"/><text x="3914" y="601">compromising the endo apical seal</text></g>
<g id="n-glass"><rect class="yl" x="3528" y="658" width="118" height="23"/><text x="3587" y="669">Glass fiber posts</text></g>
<g id="n-fractures-occur"><rect class="yl" x="3798" y="639" width="218" height="38"/><text style="font-size:12.6px"><tspan x="3907" y="649">fractures to occur in posts than</tspan><tspan x="3907" y="665">in remaining tooth structure</tspan></text></g>
<g id="n-elastic"><rect class="yl" x="3798" y="691" width="186" height="36"/><text><tspan x="3891" y="701">elastic modulus (flexibiliy)</tspan><tspan x="3891" y="717">similar to dentin</tspan></text></g>
<g id="n-monoblock"><rect class="yl" x="4062" y="701" width="91" height="20"/><text x="4107" y="711">"Monoblock"</text></g>

<g id="n-rotational"><rect class="gd" x="3092" y="752" width="102" height="42" rx="8"/><text><tspan x="3143" y="765">ROTATIONAL</tspan><tspan x="3143" y="781">RESISTANCE</tspan></text></g>
<g id="n-anti-rotational"><rect class="gd" x="3299" y="760" width="170" height="22"/><text x="3384" y="771">Anti-rotational elements</text></g>
<g id="n-normal-elliptical"><rect class="gd" x="3288" y="837" width="188" height="40"/><text><tspan x="3382" y="849">normal elliptical root canal</tspan><tspan x="3382" y="865">anatomy is followed</tspan></text></g>
<g id="n-small-groove"><rect class="gd" x="3563" y="760" width="287" height="24"/><text x="3706" y="772">Small groove placement in root canal wall</text></g>
<g id="n-tooth-lost"><rect class="gd" x="4016" y="737" width="245" height="22"/><text x="4138" y="748">tooth completely lost coronal dentin</text></g>
<g id="n-bulkiest"><rect class="gd" x="4016" y="770" width="177" height="22"/><text x="4105" y="781">where the root is bulkiest</text></g>
<g id="n-lingual"><rect class="gd" x="4294" y="768" width="106" height="24"/><text x="4347" y="780">lingual surface</text></g>
<g id="n-path"><rect class="gd" x="4015" y="805" width="272" height="24"/><text style="font-size:12.4px" x="4151" y="817">path of placement of post &amp; core resto.</text></g>
<g id="n-aux-pin"><rect class="gd" x="3544" y="825" width="91" height="24"/><text x="3590" y="837">Auxiliary pin</text></g>
<g id="n-root-surface"><rect class="gd" x="3763" y="826" width="89" height="22"/><text x="3808" y="837">root surface</text></g>
<g id="n-prep-small"><rect class="gd" x="3544" y="878" width="184" height="23"/><text x="3636" y="890">Preparation of small cavity</text></g>
<g id="n-threaded-rotation"><rect class="gd" x="3842" y="879" width="157" height="23"/><text x="3920" y="890">threaded post rotation</text></g>
<g id="n-half"><rect class="gd" x="3843" y="915" width="182" height="24"/><text x="3934" y="927">half the post; half the root</text></g>
<g id="n-condensing"><rect class="gd" x="3843" y="951" width="225" height="39"/><text><tspan x="3955" y="963">condensing amalgam into cavity</tspan><tspan x="3955" y="979">after post is cemented</tspan></text></g>
<g id="n-post-circular"><rect class="gd" x="3298" y="902" width="166" height="55"/><text><tspan x="3381" y="914">Post with a circular</tspan><tspan x="3381" y="930">cross section from</tspan><tspan x="3381" y="946">rotation during function</tspan></text></g>
<g id="n-circluar"><rect class="gd" x="3442" y="988" width="248" height="25"/><text x="3566" y="1000">circluar pre-fabricated post are used</text></g>
</g>

<g id="occlusions">
<rect class="wh" x="100" y="100" width="400" height="100"/>
<rect class="wh" x="500" y="0" width="97" height="200"/>
<rect class="wh" x="798" y="999" width="201" height="100"/>
</g>
</svg>
